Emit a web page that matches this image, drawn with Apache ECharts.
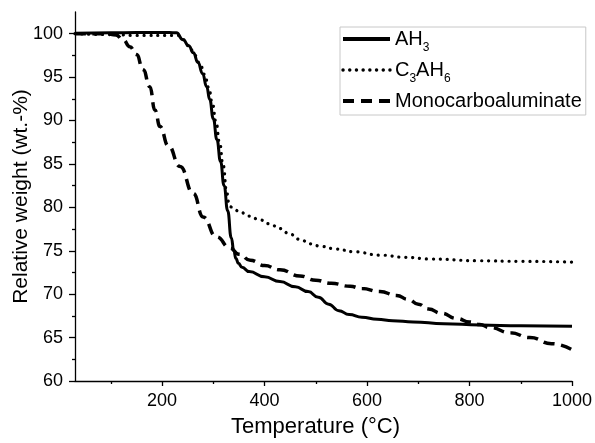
<!DOCTYPE html>
<html>
<head>
<meta charset="utf-8">
<script src="https://cdn.jsdelivr.net/npm/echarts@6/dist/echarts.min.js"></script>
<style>
  html, body { margin: 0; padding: 0; background: #fff; }
  #chart { width: 595px; height: 443px; }
</style>
</head>
<body>
<div id="chart"></div>
<script>
// Thermogravimetric curves: [temperature °C, relative weight wt.-%]
const ah3 = [
  [30, 100.05], [100, 100.1], [200, 100.15], [228, 100.1], [241, 99.3], [252, 98.6],
  [261, 97.8], [270, 96.7], [279, 95.4], [287, 93.9], [293, 92.4], [300, 90.2],
  [307, 87.8], [314, 85.3], [321, 82.5], [328, 79.6], [335, 76.5], [340, 75.0],
  [344, 74.1], [349, 73.55], [356, 73.1], [370, 72.6], [400, 72], [430, 71.45],
  [460, 70.85], [485, 70.3], [505, 69.65], [525, 68.85], [545, 68.1], [565, 67.65],
  [590, 67.35], [620, 67.1], [650, 66.95], [690, 66.8], [750, 66.6], [820, 66.45],
  [900, 66.35], [1000, 66.3]
];
const c3ah6 = [
  [30, 100], [100, 99.9], [150, 99.8], [230, 99.8], [243, 99.3], [253, 98.5],
  [264, 97.5], [274, 96.5], [283, 95.3], [291, 93.8], [298, 92], [305, 89.9],
  [312, 87.5], [319, 84.9], [326, 81.8], [330, 80.6], [334, 80.05], [340, 79.8],
  [352, 79.45], [370, 79], [391, 78.55], [410, 78.1], [430, 77.55], [450, 76.9],
  [469, 76.3], [490, 75.8], [510, 75.5], [540, 75.2], [573, 74.9], [625, 74.5],
  [675, 74.25], [723, 74.05], [820, 73.85], [900, 73.78], [1000, 73.7]
];
const monocarbo = [
  [30, 100], [90, 100], [110, 99.85], [124, 99.3], [137, 98.5], [150, 97.6],
  [163, 95.85], [176, 93.9], [186, 91.2], [196, 89.3], [212, 87.1], [235, 84.7],
  [261, 81.6], [280, 78.9], [306, 76.6], [333, 75.3], [350, 74.6], [372, 73.9],
  [400, 73.3], [430, 72.8], [469, 72.1], [500, 71.6], [530, 71.25], [567, 70.9],
  [590, 70.65], [625, 70.3], [658, 69.85], [680, 69.4], [700, 68.85], [720, 68.3],
  [745, 67.8], [775, 67.2], [800, 66.8], [820, 66.5], [840, 66.15], [880, 65.55],
  [918, 65], [960, 64.3], [1000, 63.6]
];

const seriesNames = ['AH3', 'C3AH6', 'Monocarboaluminate'];
const xMajorTicks = [200, 400, 600, 800, 1000];
const xMinorTicks = [100, 300, 500, 700, 900];
const yMajorTicks = [60, 65, 70, 75, 80, 85, 90, 95, 100];
const yMinorTicks = [62.5, 67.5, 72.5, 77.5, 82.5, 87.5, 92.5, 97.5];

const FONT = '"Liberation Sans", Arial, sans-serif';
const axisColor = '#000';

// Line styles shared by the plotted curves and their legend samples
const styleSolid = { color: '#000', width: 3, type: 'solid' };
const styleDotted = { color: '#000', width: 3.2, type: [0.1, 6.8], cap: 'round' };
const styleDashed = { color: '#000', width: 3.5, type: [11, 6.5] };

const chart = echarts.init(document.getElementById('chart'), null, { renderer: 'canvas' });

// Legend entries with chemical subscripts
const legendLabels = {
  'AH3': 'AH{s|3}',
  'C3AH6': 'C{s|3}AH{s|6}',
  'Monocarboaluminate': 'Monocarboaluminate'
};

const option = {
  backgroundColor: '#fff',
  animation: false,
  grid: { left: 75, right: 23, top: 12, bottom: 62, containLabel: false, outerBoundsMode: 'none' },
  legend: {
    data: [
      { name: seriesNames[0], lineStyle: Object.assign({}, styleSolid, { width: 4 }) },
      { name: seriesNames[1], lineStyle: Object.assign({}, styleDotted, { width: 3.4, type: [0.1, 6.6] }) },
      { name: seriesNames[2], lineStyle: Object.assign({}, styleDashed, { width: 4, type: [11, 7] }) }
    ],
    orient: 'vertical',
    left: 340,
    top: 27,
    itemWidth: 47,
    itemHeight: 14,
    itemGap: 4,
    padding: [0, 4, 2, 1],
    borderColor: '#c8c8c8',
    borderWidth: 1,
    itemStyle: { opacity: 0, borderWidth: 0 },
    formatter: name => legendLabels[name],
    textStyle: {
      fontFamily: FONT,
      fontSize: 20,
      lineHeight: 24,
      color: '#000',
      rich: {
        s: {
          fontFamily: FONT, fontSize: 12, lineHeight: 12, color: '#000',
          verticalAlign: 'top', padding: [15, 0, 0, 0]
        }
      }
    }
  },
  xAxis: [
    {
      type: 'value',
      min: 30,
      max: 1000,
      name: 'Temperature (°C)',
      nameLocation: 'middle',
      nameGap: 35,
      nameMoveOverlap: false,
      nameTextStyle: { fontFamily: FONT, fontSize: 22, color: '#000', padding: [0, 16, 0, 0] },
      axisLine: { show: true, onZero: false, lineStyle: { color: axisColor, width: 1.3 } },
      axisTick: { show: true, customValues: xMajorTicks, length: 5, lineStyle: { color: axisColor, width: 1.3 } },
      axisLabel: {
        customValues: xMajorTicks, fontFamily: FONT, fontSize: 18, color: '#000', margin: 11,
        formatter: v => String(v)
      },
      splitLine: { show: false }
    },
    {
      type: 'value',
      min: 30,
      max: 1000,
      position: 'bottom',
      axisLine: { show: false },
      axisTick: { show: true, customValues: xMinorTicks, length: 3, lineStyle: { color: axisColor, width: 1.3 } },
      axisLabel: { show: false },
      splitLine: { show: false }
    }
  ],
  yAxis: [
    {
      type: 'value',
      min: 60,
      max: 102.5,
      name: 'Relative weight (wt.-%)',
      nameLocation: 'middle',
      nameGap: 43,
      nameMoveOverlap: false,
      nameTextStyle: { fontFamily: FONT, fontSize: 21, color: '#000' },
      axisLine: { show: true, onZero: false, lineStyle: { color: axisColor, width: 1.3 } },
      axisTick: { show: true, customValues: yMajorTicks, length: 6, lineStyle: { color: axisColor, width: 1.3 } },
      axisLabel: {
        customValues: yMajorTicks, fontFamily: FONT, fontSize: 18, color: '#000', margin: 12,
        formatter: v => String(v)
      },
      splitLine: { show: false }
    },
    {
      type: 'value',
      min: 60,
      max: 102.5,
      position: 'left',
      axisLine: { show: false },
      axisTick: { show: true, customValues: yMinorTicks, length: 3, lineStyle: { color: axisColor, width: 1.3 } },
      axisLabel: { show: false },
      splitLine: { show: false }
    }
  ],
  series: [
    {
      name: 'AH3',
      type: 'line',
      data: ah3,
      symbol: 'none',
      smooth: 0.5,
      smoothMonotone: 'x',
      lineStyle: styleSolid,
      itemStyle: { color: '#000' },
      z: 3
    },
    {
      name: 'C3AH6',
      type: 'line',
      data: c3ah6,
      symbol: 'none',
      smooth: 0.5,
      smoothMonotone: 'x',
      lineStyle: styleDotted,
      itemStyle: { color: '#000' },
      z: 2
    },
    {
      name: 'Monocarboaluminate',
      type: 'line',
      data: monocarbo,
      symbol: 'none',
      smooth: 0.5,
      smoothMonotone: 'x',
      lineStyle: styleDashed,
      itemStyle: { color: '#000' },
      z: 2
    }
  ]
};

chart.setOption(option);
</script>
</body>
</html>
